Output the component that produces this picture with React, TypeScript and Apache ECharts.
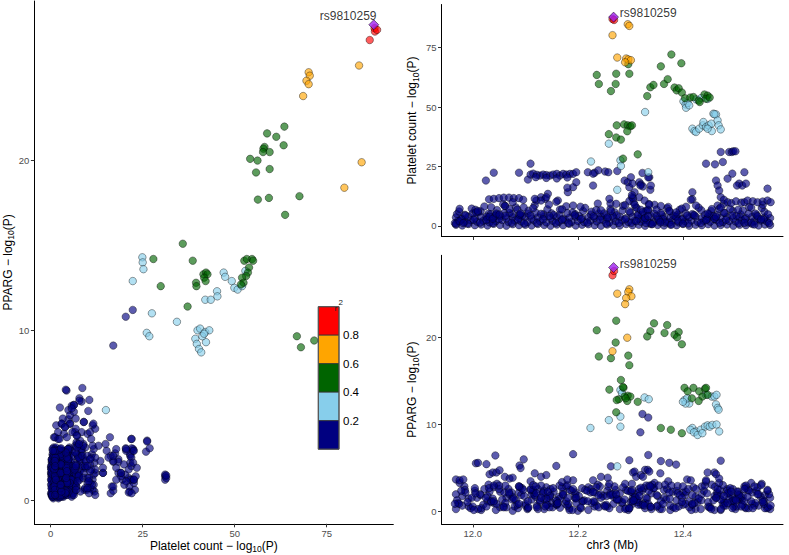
import React, { useEffect, useRef } from "react";
import * as echarts from "echarts";

// ---------- DATA ----------
// Lead variant
const LEAD_NAME = "rs9810259";
const LEAD_POS = 12.268; // Mb
const LEAD_PLT = 87.8; // Platelet count -log10(P)
const LEAD_PPAR = 28.0; // PPARG -log10(P)

// r2 legend
const R2_LABELS = ["0.8", "0.6", "0.4", "0.2"];
const R2_COLORS_TOP_DOWN = ["#FF0000", "#FFA500", "#006400", "#87CEEB", "#000080"];

// Tick values
const X_LEFT_TICKS = [0, 25, 50, 75];
const Y_LEFT_TICKS = [0, 10, 20];
const POS_TICKS = [12.0, 12.2, 12.4];
const Y_TOP_TICKS = [0, 25, 50, 75];
const Y_BOT_TICKS = [0, 10, 20];

// Low-LD (r2 < 0.2) variants: [position Mb, platelet -log10P, PPARG -log10P]
const NAVY_SNPS: number[][] = [
  [11.968,0.5,0.3],[11.980,0.2,1.8],[11.992,0.8,0.6],[12.004,0.3,2.4],[12.016,0.6,0.2],[12.028,0.2,1.2],[12.040,0.9,2.8],[12.052,0.4,0.5],[12.064,0.1,1.6],[12.076,0.7,0.1],
  [12.088,0.3,2.2],[12.100,0.5,0.7],[12.112,0.2,1.4],[12.124,0.8,2.6],[12.136,0.4,0.3],[12.148,0.1,1.9],[12.160,0.6,0.8],[12.172,0.3,2.3],[12.184,0.9,0.4],[12.196,0.2,1.5],
  [12.208,0.5,2.7],[12.220,0.7,0.2],[12.232,0.3,1.1],[12.244,0.1,2.0],[12.256,0.6,0.6],[12.268,0.4,1.7],[12.280,0.2,0.3],[12.292,0.8,2.5],[12.304,0.3,0.9],[12.316,0.5,1.3],
  [12.328,0.1,0.4],[12.340,0.7,2.1],[12.352,0.4,0.7],[12.364,0.2,1.6],[12.376,0.6,0.2],[12.388,0.3,2.4],[12.400,0.8,0.8],[12.412,0.1,1.2],[12.424,0.5,0.3],[12.436,0.3,2.0],
  [12.448,0.7,0.6],[12.460,0.2,1.8],[12.472,0.4,0.2],[12.484,0.6,2.6],[12.496,0.1,0.9],[12.508,0.5,1.5],[12.520,0.3,0.4],[12.532,0.8,2.2],[12.544,0.2,0.7],[12.556,0.6,1.9],[12.566,0.4,0.3],
  [11.972,2.1,1.0],[11.984,1.6,2.9],[11.996,2.4,0.4],[12.008,1.8,1.6],[12.020,2.2,0.8],[12.032,1.5,2.3],[12.044,2.0,0.2],[12.056,2.5,1.4],[12.068,1.7,2.6],[12.080,2.3,0.6],
  [12.092,1.9,1.9],[12.104,1.6,0.3],[12.116,2.4,2.1],[12.128,2.0,1.1],[12.140,1.5,2.8],[12.152,2.2,0.5],[12.164,1.8,1.7],[12.176,2.5,0.9],[12.188,1.7,2.4],[12.200,2.1,0.1],
  [12.212,1.6,1.3],[12.224,2.3,2.2],[12.236,1.9,0.7],[12.248,2.6,1.8],[12.260,1.5,0.4],[12.272,2.0,2.5],[12.284,2.4,1.0],[12.296,1.7,0.2],[12.308,2.2,2.0],[12.320,1.8,0.8],
  [12.332,2.5,1.5],[12.344,1.6,2.7],[12.356,2.1,0.3],[12.368,1.9,1.4],[12.380,2.4,2.3],[12.392,1.5,0.6],[12.404,2.0,1.9],[12.416,2.3,0.2],[12.428,1.7,1.1],[12.440,2.2,2.4],
  [12.452,1.8,0.5],[12.464,2.5,1.6],[12.476,1.6,0.9],[12.488,2.1,2.1],[12.500,1.9,0.3],[12.512,2.4,1.3],[12.524,1.5,2.5],[12.536,2.0,0.7],[12.548,2.3,1.7],[12.560,1.8,0.4],
  [11.968,3.6,2.0],[11.980,3.1,0.7],[11.992,4.0,1.5],[12.004,3.3,2.7],[12.016,3.8,0.4],[12.028,3.0,1.8],[12.040,3.5,1.0],[12.052,4.1,2.3],[12.064,3.2,0.5],[12.076,3.7,1.7],
  [12.088,3.4,2.9],[12.100,3.9,0.9],[12.112,3.1,2.0],[12.124,3.6,0.3],[12.136,4.0,1.4],[12.148,3.3,2.6],[12.160,3.8,0.8],[12.172,3.0,1.9],[12.184,3.5,0.2],[12.196,3.9,2.2],
  [12.208,3.2,1.2],[12.220,3.7,2.8],[12.232,3.4,0.6],[12.244,4.0,1.6],[12.256,3.1,2.4],[12.268,3.6,0.9],[12.280,3.8,2.1],[12.292,3.3,0.4],[12.304,3.9,1.5],[12.316,3.0,2.6],
  [12.328,3.5,1.0],[12.340,4.1,0.3],[12.352,3.2,1.8],[12.364,3.7,2.5],[12.376,3.4,0.7],[12.388,3.9,1.3],[12.400,3.1,2.2],[12.412,3.6,0.5],[12.424,4.0,1.7],[12.436,3.3,2.9],
  [12.448,3.8,1.1],[12.460,3.0,0.2],[12.472,3.5,1.9],[12.484,3.9,2.4],[12.496,3.2,0.6],[12.508,3.7,1.4],[12.520,3.4,2.7],[12.532,4.0,0.9],[12.544,3.1,2.0],[12.556,3.6,0.4],[12.566,3.3,1.6],
  [11.970,5.0,1.3],[11.985,4.7,2.5],[12.000,5.3,0.6],[12.015,6.2,1.9],[12.030,5.1,3.1],[12.045,4.8,0.9],[12.060,5.4,2.2],[12.075,5.0,1.4],[12.090,4.6,2.8],[12.105,5.2,0.4],
  [12.120,5.6,1.7],[12.135,4.9,2.4],[12.150,5.3,1.0],[12.165,4.7,3.0],[12.180,5.5,0.7],[12.195,5.0,2.0],[12.210,6.3,1.2],[12.225,4.8,2.6],[12.240,5.2,0.5],[12.255,4.6,1.8],
  [12.270,5.8,2.9],[12.285,6.5,1.1],[12.300,5.6,2.3],[12.315,4.9,0.8],[12.330,6.4,1.6],[12.345,5.2,2.7],[12.360,4.7,0.3],[12.375,6.1,1.5],[12.390,4.8,2.1],[12.405,5.3,0.9],
  [12.420,4.6,2.8],[12.435,6.6,1.3],[12.450,5.0,0.5],[12.465,4.7,2.2],[12.480,5.5,1.0],[12.495,6.3,2.6],[12.510,4.9,1.7],[12.525,5.2,0.4],[12.540,4.6,2.4],[12.555,6.0,1.2],
  [11.974,6.1,0.9],[11.986,4.4,2.2],[11.998,7.3,1.6],[12.010,5.8,0.3],[12.022,8.2,2.6],[12.034,4.9,1.1],[12.046,6.7,3.2],[12.058,9.1,0.6],[12.070,5.5,2.0],[12.082,7.8,1.3],
  [12.094,4.3,2.7],[12.106,6.4,0.5],[12.118,8.7,1.9],[12.130,5.1,3.0],[12.142,7.0,0.8],[12.154,4.6,2.3],[12.166,6.9,1.5],[12.178,8.3,2.9],[12.190,5.7,0.2],[12.202,4.2,1.8],
  [12.214,7.6,2.5],[12.226,6.0,1.0],[12.238,9.4,3.1],[12.250,5.3,0.7],[12.262,7.2,2.1],[12.274,4.5,1.4],[12.286,8.5,2.8],[12.298,6.2,0.4],[12.310,7.9,1.7],[12.322,4.8,2.4],
  [12.334,6.6,0.9],[12.346,8.9,3.3],[12.358,5.4,1.2],[12.370,7.4,2.6],[12.382,4.4,0.5],[12.394,6.8,1.9],[12.406,8.1,2.3],[12.418,5.0,0.8],[12.430,7.7,1.5],[12.442,4.7,3.0],
  [12.454,6.3,0.3],[12.466,8.6,2.0],[12.478,5.6,1.2],[12.490,7.1,2.7],[12.502,4.3,0.6],[12.514,6.5,1.8],[12.526,8.0,2.4],[12.538,5.2,1.0],[12.550,7.5,3.2],[12.562,4.9,0.5],
  [11.966,1.2,0.9],[11.978,2.8,2.4],[11.990,1.0,1.1],[12.002,2.6,0.2],[12.014,1.4,2.0],[12.026,3.9,0.6],[12.038,1.1,1.5],[12.050,2.9,2.6],[12.062,4.3,1.0],[12.074,1.3,2.2],
  [12.086,2.7,0.4],[12.098,1.0,1.8],[12.110,4.4,2.5],[12.122,1.2,0.7],[12.134,2.8,2.1],[12.146,4.2,0.5],[12.158,1.3,1.3],[12.170,2.6,2.8],[12.182,1.1,0.9],[12.194,4.5,1.6],
  [12.206,2.9,0.4],[12.218,1.4,2.4],[12.230,4.1,1.2],[12.242,2.7,2.9],[12.254,1.0,0.8],[12.266,4.3,2.0],[12.278,1.2,1.4],[12.290,2.8,0.3],[12.302,1.3,2.3],[12.314,4.4,1.1],
  [12.326,2.6,2.7],[12.338,1.1,0.6],[12.350,4.2,1.9],[12.362,2.9,0.9],[12.374,1.4,2.2],[12.386,4.0,0.4],[12.398,2.7,1.6],[12.410,1.0,2.6],[12.422,4.5,1.0],[12.434,1.2,0.3],
  [12.446,2.8,2.1],[12.458,4.2,1.3],[12.470,1.3,2.5],[12.482,2.6,0.7],[12.494,4.4,1.7],[12.506,1.1,2.3],[12.518,2.9,0.5],[12.530,1.4,1.2],[12.542,4.1,2.8],[12.554,2.7,0.9],[12.564,1.2,2.0],
  [11.975,7.2,3.3],[12.005,6.8,2.1],[12.035,7.9,1.2],[12.062,8.4,3.0],[12.085,6.9,0.8],[12.115,7.5,2.5],[12.145,9.0,1.6],[12.170,7.0,3.4],[12.205,8.1,0.5],[12.235,6.7,2.8],
  [12.262,9.5,1.9],[12.290,8.8,3.2],[12.312,7.6,1.4],[12.335,9.2,2.4],[12.350,6.9,0.6],[12.372,8.0,3.5],[12.398,7.3,1.1],[12.425,8.6,2.6],[12.455,7.1,3.1],[12.478,9.3,0.7],
  [12.505,6.8,2.0],[12.530,7.7,3.3],[12.552,8.9,1.3],
  [12.330,1.2,3.0],[12.342,0.8,3.1],[12.354,2.6,3.0],[12.366,1.4,3.1],[12.378,0.5,3.0],[12.390,2.2,2.95],[12.400,1.0,2.9],[12.517,1.3,2.9],[12.536,0.6,2.9],[12.549,2.8,3.05],
  [12.031,11.2,2.7],[12.040,11.4,1.2],[12.050,11.7,3.0],[12.059,11.9,0.5],[12.069,11.9,2.2],[12.078,11.7,1.5],[12.088,11.7,0.9],[12.096,11.0,2.5],[12.025,19.1,1.6],[12.040,22.4,3.0],
  [12.088,22.4,2.9],[12.110,26.2,3.5],[12.105,19.5,1.2],[12.110,21.6,2.6],[12.115,22.0,3.05],[12.122,21.5,0.5],[12.128,21.2,1.3],[12.134,21.6,2.2],[12.140,21.4,0.8],[12.147,21.2,1.8],
  [12.153,21.6,2.7],[12.160,21.9,1.2],[12.166,21.2,0.45],[12.172,21.9,2.0],[12.178,21.6,1.2],[12.185,21.9,2.5],[12.191,21.9,3.6],[12.197,22.6,1.0],[12.120,20.5,2.9],[12.140,20.2,1.5],
  [12.160,20.0,0.9],[12.180,20.4,3.05],[12.121,10.7,2.1],[12.130,12.1,1.6],[12.138,11.4,0.6],[12.143,13.5,2.3],[12.162,10.7,1.0],[12.181,14.2,1.6],[12.191,16.3,2.6],[12.197,18.4,1.6],
  [12.219,22.6,1.2],[12.232,22.4,2.2],[12.239,23.4,1.9],[12.252,22.9,0.6],[12.258,22.6,2.9],[12.275,23.1,1.4],[12.229,17.0,2.25],
  [12.289,19.1,1.4],[12.295,18.4,2.4],[12.301,20.5,1.1],[12.298,16.3,0.4],[12.304,17.8,1.2],[12.308,14.2,1.6],[12.303,12.1,2.5],[12.306,10.0,1.3],[12.317,18.4,2.25],[12.320,17.5,2.75],
  [12.324,16.6,0.8],[12.317,12.1,1.8],[12.327,10.7,0.7],[12.336,20.5,3.0],[12.338,15.2,2.9],[12.339,17.0,0.55],[12.260,11.4,3.2],[12.273,9.3,2.0],
  [12.418,14.2,1.9],[12.418,11.2,0.9],[12.444,26.2,3.45],[12.461,25.9,2.85],[12.472,31.1,1.4],[12.476,26.9,3.05],[12.488,31.1,1.5],[12.493,31.1,1.2],[12.496,31.4,1.3],[12.500,31.4,1.45],
  [12.485,19.9,2.1],[12.494,22.0,0.4],[12.517,22.6,1.2],[12.507,17.8,1.9],[12.503,17.0,2.3],[12.513,17.0,0.8],[12.520,17.8,3.0],
  [12.472,12.1,0.3],[12.478,11.0,1.8],[12.485,10.0,1.0],[12.492,9.6,2.3],[12.501,10.4,1.3],[12.511,9.8,0.6],[12.517,10.0,2.6],[12.523,10.7,1.7],[12.533,10.4,0.4],[12.542,10.0,2.0],
  [12.552,10.3,1.1],[12.561,10.7,2.4],[12.567,10.0,0.7],[12.561,15.7,2.5],[12.463,19.1,1.6],[12.466,17.0,2.6],[12.469,14.9,3.3],
  [11.968,0.9,3.7],[11.975,2.0,3.6],[11.982,1.2,3.7],[12.006,5.7,5.55],[12.010,6.3,5.6],[12.026,2.5,5.45],[12.043,4.3,6.45],[12.032,3.9,4.3],[12.038,3.0,4.5],[12.045,5.25,4.5],
  [12.051,4.8,4.75],[12.061,8.4,4.0],[12.070,7.1,3.8],[12.076,10.0,3.9],[12.089,4.8,5.3],[12.097,7.8,6.0],[12.091,5.25,5.0],[12.118,11.4,4.4],[12.130,10.7,4.0],[12.140,12.1,4.2],
  [12.159,10.2,5.25],[12.180,16.1,3.7],[12.191,8.6,6.6],[12.229,22.0,3.6],[12.244,6.6,4.0],[12.257,3.6,3.9],[12.263,6.3,5.2],[12.298,10.5,5.9],[12.305,11.6,4.5],[12.308,9.0,4.6],
  [12.303,13.0,3.2],[12.311,2.0,4.0],[12.320,6.8,4.2],[12.324,5.9,4.0],[12.328,3.3,4.8],[12.333,6.8,4.8],[12.336,9.0,4.6],[12.334,4.1,6.5],[12.358,8.4,5.8],[12.374,6.3,5.6],
  [12.387,5.7,5.4],[12.357,1.5,4.4],[12.408,4.4,3.7],[12.415,11.0,3.6],[12.444,2.4,3.6],[12.447,5.25,4.5],[12.460,3.0,4.5],[12.463,3.9,4.3],[12.469,7.1,3.8],[12.472,7.8,5.85],
  [12.319,17.0,9.1],[12.323,22.3,11.2],[12.334,20.4,10.8]
];

// Left panel: [platelet -log10P, PPARG -log10P]
const LEFT_LIGHTBLUE = [[24.9,14.3],[25.0,14.0],[25.2,13.6],[22.3,12.9],[27.5,11.0],[26.1,9.85],[26.8,9.65],[34.3,10.5],[42.0,11.8],[43.5,11.8],[45.2,12.3],[45.3,12.0],[47.0,13.4],[47.4,13.15],[49.2,12.9],[49.9,12.5],[50.8,12.4],[52.0,12.6],[52.9,13.5],[39.9,10.0],[40.6,10.1],[42.0,9.9],[43.1,10.0],[39.3,9.5],[39.7,9.2],[40.3,8.9],[40.9,8.7],[42.2,9.3],[41.2,9.65],[41.7,9.8],[15.0,5.3]];
const LEFT_GREEN = [[63.5,22.0],[58.8,21.6],[61.3,21.4],[63.3,20.9],[58.1,20.8],[57.8,20.7],[57.7,20.5],[59.5,20.5],[54.2,20.1],[56.2,20.0],[55.8,19.3],[59.5,19.5],[67.6,17.9],[56.3,17.7],[59.3,17.8],[63.7,16.8],[27.9,14.2],[29.9,12.6],[35.9,15.1],[38.6,14.1],[37.2,11.4],[39.5,12.8],[39.6,12.6],[41.5,13.3],[42.2,13.4],[42.6,13.3],[41.7,13.1],[42.1,12.9],[52.6,14.1],[53.3,14.2],[54.7,14.2],[55.0,14.1],[53.9,13.7],[53.6,13.4],[53.1,13.2],[52.0,13.1],[52.4,12.8],[51.7,12.7],[66.9,9.65],[71.6,9.4],[68.0,9.0]];
const LEFT_ORANGE = [[70.1,25.2],[70.4,25.0],[69.5,24.7],[70.1,24.5],[68.6,23.8],[83.8,25.6],[84.5,19.9],[79.8,18.4]];
const LEFT_RED = [[88.0,27.8],[88.1,27.6],[88.7,27.7],[86.7,27.1]];

// Top-right panel: [position Mb, platelet -log10P]
const TOP_LIGHTBLUE = [[12.328,47.9],[12.259,34.6],[12.401,52.4],[12.405,51.1],[12.406,49.7],[12.409,51.7],[12.412,50.7],[12.425,53.2],[12.435,53.8],[12.447,53.4],[12.418,40.9],[12.422,39.9],[12.425,39.5],[12.431,40.9],[12.438,42.3],[12.439,43.7],[12.444,41.6],[12.449,42.3],[12.454,43.0],[12.458,47.2],[12.463,46.9],[12.466,44.4],[12.468,42.3],[12.472,40.6],[12.455,39.9],[12.447,40.9],[12.460,47.0],[12.225,27.1],[12.281,27.6],[12.282,25.2],[12.275,15.2],[12.334,22.6]];
const TOP_GREEN = [[12.236,63.5],[12.240,59.7],[12.263,56.7],[12.272,59.7],[12.273,64.0],[12.298,64.0],[12.296,68.0],[12.332,54.6],[12.338,58.3],[12.344,59.3],[12.358,67.1],[12.364,59.7],[12.371,61.7],[12.378,72.1],[12.397,68.4],[12.384,58.2],[12.388,57.0],[12.392,57.9],[12.398,56.1],[12.404,53.7],[12.414,54.0],[12.420,54.2],[12.430,52.7],[12.432,52.1],[12.441,55.3],[12.447,54.8],[12.444,53.5],[12.451,54.0],[12.259,38.6],[12.273,37.2],[12.274,42.3],[12.282,36.3],[12.288,42.7],[12.295,42.3],[12.300,41.9],[12.294,39.8],[12.303,42.3],[12.314,30.1],[12.286,28.3]];
const TOP_ORANGE = [[12.295,84.8],[12.298,84.1],[12.266,80.2],[12.275,70.8],[12.292,70.4],[12.296,70.0],[12.301,69.7],[12.290,68.8]];
const TOP_RED = [[12.266,87.0],[12.269,86.6]];

// Bottom-right panel: [position Mb, PPARG -log10P]
const BOT_LIGHTBLUE = [[12.224,9.6],[12.259,10.5],[12.281,10.9],[12.281,9.75],[12.281,13.95],[12.284,13.6],[12.327,13.1],[12.335,12.9],[12.403,12.8],[12.412,12.4],[12.405,12.4],[12.444,13.4],[12.455,13.2],[12.460,13.2],[12.464,13.4],[12.463,12.3],[12.466,11.9],[12.468,11.7],[12.418,9.6],[12.425,9.2],[12.434,9.4],[12.442,9.75],[12.447,9.9],[12.451,9.75],[12.456,9.95],[12.464,10.0],[12.469,9.2],[12.414,9.4],[12.421,9.1],[12.428,8.8],[12.437,9.0],[12.275,5.2],[12.408,13.0],[12.400,12.6]];
const BOT_GREEN = [[12.273,21.9],[12.236,20.8],[12.272,19.4],[12.240,17.8],[12.263,17.6],[12.296,17.9],[12.298,16.8],[12.345,21.6],[12.370,21.4],[12.338,20.7],[12.332,20.1],[12.365,20.5],[12.384,20.3],[12.392,20.6],[12.389,20.0],[12.398,19.2],[12.282,15.1],[12.260,14.0],[12.287,14.2],[12.295,13.3],[12.300,13.2],[12.289,13.2],[12.278,12.9],[12.274,12.8],[12.294,12.7],[12.314,12.6],[12.273,11.4],[12.358,9.6],[12.377,9.4],[12.398,9.0],[12.403,14.2],[12.409,13.8],[12.420,14.2],[12.431,13.8],[12.437,13.2],[12.442,14.1],[12.444,14.2],[12.417,13.0],[12.430,12.7],[12.447,13.4],[12.286,14.3],[12.291,13.0]];
const BOT_ORANGE = [[12.298,25.5],[12.296,25.2],[12.275,25.0],[12.302,24.7],[12.292,24.5],[12.290,23.8],[12.294,19.95],[12.266,18.4]];
const BOT_RED = [[12.266,27.1],[12.269,27.6]];

// ---------- STYLE ----------
const FONT = "'Liberation Sans', Arial, Helvetica, sans-serif";
const FILL = {
  navy: "rgba(0,0,128,0.8)",
  lightblue: "rgba(135,206,235,0.8)",
  green: "rgba(0,100,0,0.8)",
  orange: "rgba(255,165,0,0.8)",
  red: "rgba(255,0,0,0.8)",
};

const subRich = {
  sub: { fontSize: 8.5, lineHeight: 9, verticalAlign: "bottom", fontFamily: FONT, color: "#000" },
};

function pts(name: string, data: number[][], fill: string, idx: number) {
  return {
    type: "scatter",
    name,
    xAxisIndex: idx,
    yAxisIndex: idx,
    data,
    symbol: "circle",
    symbolSize: 7.5,
    silent: true,
    itemStyle: { color: fill, borderColor: "rgba(0,0,0,0.8)", borderWidth: 0.6 },
  };
}

function lead(idx: number, data: number[][], label: any) {
  return {
    type: "scatter",
    name: "lead",
    xAxisIndex: idx,
    yAxisIndex: idx,
    data,
    symbol: "diamond",
    symbolSize: 10,
    silent: true,
    z: 5,
    itemStyle: { color: "#A020F0", borderColor: "#000", borderWidth: 0.6 },
    label: {
      show: true,
      formatter: LEAD_NAME,
      fontSize: 12,
      fontFamily: FONT,
      color: "#000",
      ...label,
    },
  };
}

function axisBase(min: number, max: number, ticks: number[], fmt: (v: number) => string) {
  return {
    type: "value",
    min,
    max,
    splitLine: { show: false },
    axisLine: { show: true, onZero: false, lineStyle: { color: "#000", width: 1 } },
    axisTick: { show: true, length: 3.5, customValues: ticks, lineStyle: { color: "#333", width: 1 } },
    axisLabel: {
      customValues: ticks,
      formatter: fmt,
      color: "#4D4D4D",
      fontSize: 9.5,
      fontFamily: FONT,
      margin: 5,
    },
    nameLocation: "middle",
    nameMoveOverlap: false,
    nameTextStyle: { fontSize: 12, fontFamily: FONT, color: "#000", lineHeight: 16, rich: subRich },
  };
}

const intFmt = (v: number) => String(Math.round(v));
const mbFmt = (v: number) => v.toFixed(1);

export default function App() {
  const ref = useRef<HTMLDivElement>(null);

  useEffect(() => {
    if (!ref.current) return;
    const chart = echarts.init(ref.current, null, { renderer: "svg" });

    const navyLeft = NAVY_SNPS.map((d) => [d[1], d[2]]);
    const navyTop = NAVY_SNPS.map((d) => [d[0], d[1]]);
    const navyBot = NAVY_SNPS.map((d) => [d[0], d[2]]);

    const legendX = 318.3;
    const legendTop = 306.7;
    const segH = 28.5;
    const segW = 20.7;
    const legendEls: any[] = [];
    R2_COLORS_TOP_DOWN.forEach((c, i) => {
      legendEls.push({
        type: "rect",
        shape: { x: legendX, y: legendTop + i * segH, width: segW, height: segH },
        style: { fill: c, stroke: "#333", lineWidth: 0.8 },
        z: 100,
      });
    });
    legendEls.push({
      type: "rect",
      shape: { x: legendX, y: legendTop, width: segW, height: segH * 5 },
      style: { fill: "none", stroke: "#555", lineWidth: 1 },
      z: 101,
    });
    R2_LABELS.forEach((t, i) => {
      legendEls.push({
        type: "text",
        x: legendX + segW + 4,
        y: legendTop + (i + 1) * segH,
        style: { text: t, fontSize: 11.5, fontFamily: FONT, fill: "#000", align: "left", verticalAlign: "middle" },
        z: 102,
      });
    });
    legendEls.push({
      type: "text",
      x: 334.5,
      y: 304,
      style: { text: "r", fontSize: 8, fontFamily: FONT, fill: "#222", align: "left", verticalAlign: "top" },
      z: 103,
    });
    legendEls.push({
      type: "text",
      x: 338.5,
      y: 298.5,
      style: { text: "2", fontSize: 8, fontFamily: FONT, fill: "#222", align: "left", verticalAlign: "top" },
      z: 103,
    });

    const gridBase = { outerBoundsMode: "none", containLabel: false };

    const option: any = {
      animation: false,
      backgroundColor: "#ffffff",
      textStyle: { fontFamily: FONT },
      grid: [
        { ...gridBase, left: 34.4, top: 1, width: 358.9, height: 522.8 },
        { ...gridBase, left: 441.5, top: 4.5, width: 341.5, height: 232 },
        { ...gridBase, left: 441.5, top: 255.3, width: 341.5, height: 268.6 },
      ],
      xAxis: [
        {
          ...axisBase(-4.43, 93.1, X_LEFT_TICKS, intFmt),
          gridIndex: 0,
          name: "Platelet count − log{sub|10}(P)",
          nameGap: 14,
        },
        {
          ...axisBase(11.9405, 12.5905, POS_TICKS, mbFmt),
          gridIndex: 1,
          axisLabel: { show: false, customValues: POS_TICKS },
        },
        {
          ...axisBase(11.9405, 12.5905, POS_TICKS, mbFmt),
          gridIndex: 2,
          name: "chr3 (Mb)",
          nameGap: 13,
        },
      ],
      yAxis: [
        {
          ...axisBase(-1.4, 29.4, Y_LEFT_TICKS, intFmt),
          gridIndex: 0,
          name: "PPARG − log{sub|10}(P)",
          nameGap: 18.5,
        },
        {
          ...axisBase(-4.43, 93.1, Y_TOP_TICKS, intFmt),
          gridIndex: 1,
          name: "Platelet count − log{sub|10}(P)",
          nameGap: 21.5,
        },
        {
          ...axisBase(-1.4, 29.4, Y_BOT_TICKS, intFmt),
          gridIndex: 2,
          name: "PPARG − log{sub|10}(P)",
          nameGap: 21.5,
        },
      ],
      series: [
        pts("r2<0.2", navyLeft, FILL.navy, 0),
        pts("0.2-0.4", LEFT_LIGHTBLUE, FILL.lightblue, 0),
        pts("0.4-0.6", LEFT_GREEN, FILL.green, 0),
        pts("0.6-0.8", LEFT_ORANGE, FILL.orange, 0),
        pts(">0.8", LEFT_RED, FILL.red, 0),
        lead(0, [[LEAD_PLT, LEAD_PPAR]], { position: "left", distance: 0, offset: [8, -9] }),

        pts("r2<0.2", navyTop, FILL.navy, 1),
        pts("0.2-0.4", TOP_LIGHTBLUE, FILL.lightblue, 1),
        pts("0.4-0.6", TOP_GREEN, FILL.green, 1),
        pts("0.6-0.8", TOP_ORANGE, FILL.orange, 1),
        pts(">0.8", TOP_RED, FILL.red, 1),
        lead(1, [[LEAD_POS, LEAD_PLT]], { position: "right", distance: 1, offset: [0, -4] }),

        pts("r2<0.2", navyBot, FILL.navy, 2),
        pts("0.2-0.4", BOT_LIGHTBLUE, FILL.lightblue, 2),
        pts("0.4-0.6", BOT_GREEN, FILL.green, 2),
        pts("0.6-0.8", BOT_ORANGE, FILL.orange, 2),
        pts(">0.8", BOT_RED, FILL.red, 2),
        lead(2, [[LEAD_POS, LEAD_PPAR]], { position: "right", distance: 1, offset: [0, -3.5] }),
      ],
      graphic: legendEls,
    };

    chart.setOption(option);
    return () => chart.dispose();
  }, []);

  return (
    <div
      ref={ref}
      style={{ position: "fixed", left: 0, top: 0, width: 789, height: 555, background: "#fff" }}
    />
  );
}
